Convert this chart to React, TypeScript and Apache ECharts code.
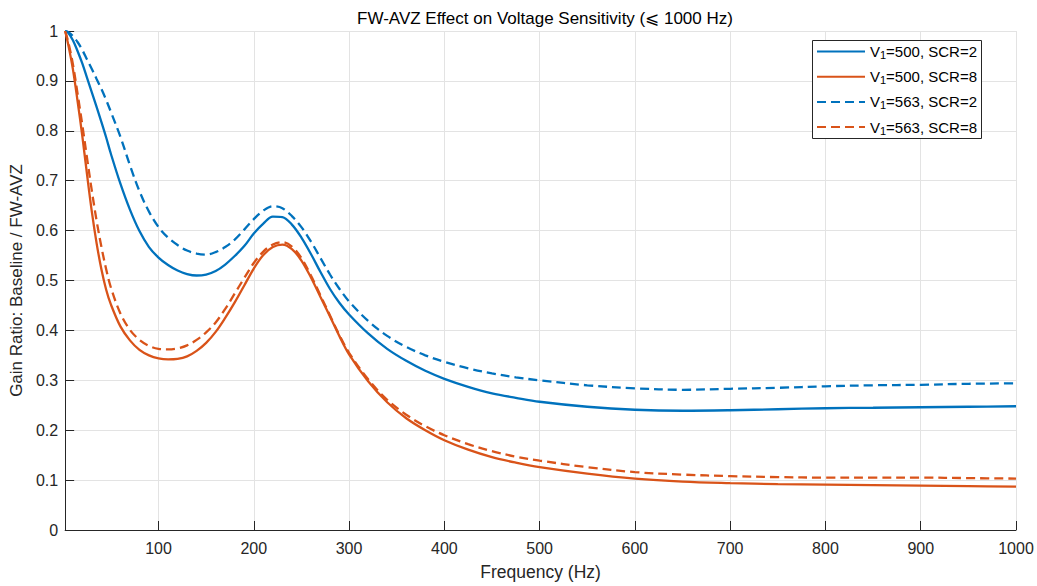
import React, { useEffect, useRef } from 'react';
import * as echarts from 'echarts';

const freq = [2, 5, 10, 15, 20, 25, 30, 35, 40, 45, 50,
  60, 70, 80, 90, 100, 110, 120, 130, 140, 150, 160, 170, 180, 190, 200, 210, 220, 230, 240, 250, 260, 270, 280, 290, 300,
  320, 340, 360, 380, 400, 425, 450, 475, 500,
  550, 600, 650, 700, 750, 800, 850, 900, 950, 1000];

const v500scr2 = [1.0, 0.997, 0.982, 0.96, 0.935, 0.906, 0.877, 0.848, 0.818, 0.787, 0.754,
  0.694, 0.642, 0.599, 0.567, 0.546, 0.531, 0.52, 0.513, 0.51, 0.512, 0.519, 0.532, 0.549, 0.569, 0.594, 0.614, 0.628, 0.627, 0.612, 0.586, 0.553, 0.517, 0.483, 0.455, 0.432,
  0.394, 0.363, 0.339, 0.319, 0.303, 0.287, 0.274, 0.265, 0.257,
  0.247, 0.241, 0.239, 0.24, 0.242, 0.244, 0.245, 0.246, 0.247, 0.248];

const v500scr8 = [1.0, 0.975, 0.925, 0.86, 0.79, 0.712, 0.638, 0.575, 0.523, 0.482, 0.452,
  0.408, 0.38, 0.361, 0.35, 0.344, 0.342, 0.343, 0.348, 0.359, 0.375, 0.397, 0.425, 0.456, 0.49, 0.524, 0.551, 0.567, 0.572, 0.563, 0.54, 0.506, 0.467, 0.428, 0.388, 0.352,
  0.298, 0.256, 0.224, 0.2, 0.18, 0.161, 0.146, 0.135, 0.126,
  0.113, 0.103, 0.097, 0.094, 0.092, 0.091, 0.09, 0.089, 0.088, 0.087];

const v563scr2 = [1.0, 0.998, 0.99, 0.978, 0.962, 0.943, 0.924, 0.904, 0.884, 0.862, 0.838,
  0.788, 0.731, 0.679, 0.638, 0.607, 0.586, 0.571, 0.56, 0.554, 0.552, 0.557, 0.567, 0.582, 0.602, 0.623, 0.64, 0.649, 0.645, 0.629, 0.607, 0.578, 0.545, 0.512, 0.483, 0.458,
  0.419, 0.389, 0.367, 0.35, 0.337, 0.324, 0.314, 0.306, 0.3,
  0.29, 0.284, 0.281, 0.283, 0.285, 0.288, 0.29, 0.291, 0.293, 0.294];

const v563scr8 = [1.0, 0.98, 0.935, 0.875, 0.812, 0.745, 0.68, 0.62, 0.568, 0.523, 0.486,
  0.434, 0.401, 0.381, 0.369, 0.363, 0.362, 0.364, 0.37, 0.381, 0.396, 0.416, 0.443, 0.474, 0.505, 0.535, 0.558, 0.572, 0.577, 0.568, 0.545, 0.51, 0.47, 0.43, 0.39, 0.355,
  0.302, 0.261, 0.231, 0.208, 0.19, 0.172, 0.158, 0.147, 0.139,
  0.126, 0.116, 0.111, 0.108, 0.106, 0.105, 0.105, 0.105, 0.104, 0.103];

const seriesNames = ['V1=500, SCR=2', 'V1=500, SCR=8', 'V1=563, SCR=2', 'V1=563, SCR=8'];
const titleText = 'FW-AVZ Effect on Voltage Sensitivity (⩽ 1000 Hz)';
const xName = 'Frequency (Hz)';
const yName = 'Gain Ratio: Baseline / FW-AVZ';

const BLUE = '#0072BD';
const RED = '#D95319';
const FONT = '"Liberation Sans", Arial, Helvetica, sans-serif';

export default function App() {
  const ref = useRef<HTMLDivElement>(null);
  useEffect(() => {
    if (!ref.current) return;
    const chart = echarts.init(ref.current, undefined, { renderer: 'svg' });
    const mk = (vals: number[]) => freq.map((f, i) => [f, vals[i]]);
    const styles = [
      { c: BLUE, t: 'solid', d: v500scr2 },
      { c: RED, t: 'solid', d: v500scr8 },
      { c: BLUE, t: [9, 5], d: v563scr2 },
      { c: RED, t: [9, 5], d: v563scr8 },
    ];
    chart.setOption({
      animation: false,
      backgroundColor: '#ffffff',
      textStyle: { fontFamily: FONT },
      title: {
        text: titleText,
        left: 540,
        textAlign: 'center',
        top: 5,
        textStyle: { fontFamily: FONT, fontSize: 17, fontWeight: 'normal', color: '#000000' },
      },
      grid: { left: 63, right: 21, top: 31, bottom: 55, containLabel: false },
      graphic: [
        {
          type: 'rect',
          z: 3,
          shape: { x: 812.5, y: 40.5, width: 169, height: 98 },
          style: { fill: '#ffffff', stroke: '#262626', lineWidth: 1 },
          silent: true,
        },
      ],
      legend: {
        orient: 'vertical',
        left: 812,
        top: 40,
        z: 5,
        padding: [2.5, 8, 0, 4],
        itemGap: 7.2,
        itemWidth: 48,
        itemHeight: 18,
        borderWidth: 0,
        itemStyle: { opacity: 0 },
        data: seriesNames,
        formatter: (name: string) => {
          const rest = name.slice(2);
          return '{n|V}{s|1}{n|' + rest + '}';
        },
        textStyle: {
          fontFamily: FONT,
          color: '#000000',
          rich: {
            n: { fontSize: 15, fontFamily: FONT, color: '#000000', lineHeight: 18 },
            s: { fontSize: 11, fontFamily: FONT, color: '#000000', lineHeight: 18, verticalAlign: 'top', padding: [7, 0, 0, 0] },
          },
        },
      },
      xAxis: {
        type: 'value',
        min: 2,
        max: 1000,
        splitNumber: 10,
        name: xName,
        nameLocation: 'middle',
        nameGap: 33,
        nameTextStyle: { fontFamily: FONT, fontSize: 17.5, color: '#262626' },
        axisLine: { show: true, onZero: false, lineStyle: { color: '#262626', width: 1 } },
        axisTick: { show: true, inside: true, length: 9, lineStyle: { color: '#262626' } },
        axisLabel: {
          showMinLabel: false,
          fontFamily: FONT,
          fontSize: 16,
          color: '#262626',
          margin: 10,
          formatter: (v: number) => String(Math.round(v)),
        },
        splitLine: { show: true, lineStyle: { color: '#e3e3e3', width: 1 } },
      },
      yAxis: {
        type: 'value',
        min: 0,
        max: 1,
        interval: 0.1,
        name: yName,
        nameLocation: 'middle',
        nameGap: 38,
        nameTextStyle: { fontFamily: FONT, fontSize: 17, color: '#262626' },
        axisLine: { show: true, lineStyle: { color: '#262626', width: 1 } },
        axisTick: { show: true, inside: true, length: 9, lineStyle: { color: '#262626' } },
        axisLabel: {
          fontFamily: FONT,
          fontSize: 16,
          color: '#262626',
          margin: 7,
          formatter: (v: number) => String(Math.round(v * 10) / 10),
        },
        splitLine: { show: true, lineStyle: { color: '#e3e3e3', width: 1 } },
      },
      series: styles.map((s, i) => ({
        name: seriesNames[i],
        type: 'line',
        data: mk(s.d),
        smooth: 0.35,
        symbol: 'circle',
        symbolSize: 0,
        showSymbol: false,
        color: s.c,
        lineStyle: { color: s.c, width: 2.3, type: s.t },
        itemStyle: { color: s.c },
        z: 2,
      })),
    });
    return () => chart.dispose();
  }, []);
  return <div ref={ref} style={{ width: 1037, height: 586, position: 'absolute', left: 0, top: 0 }} />;
}
